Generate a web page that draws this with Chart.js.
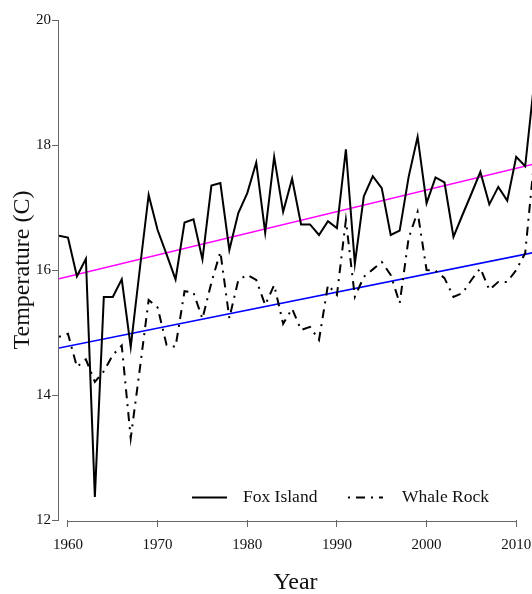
<!DOCTYPE html>
<html lang="en">
<head>
    <meta charset="UTF-8">
    <title>Temperature - Fox Island / Whale Rock</title>
    <!-- Chart.js -->
    <script src="https://cdn.jsdelivr.net/npm/chart.js"></script>
    <style>
        body { margin: 0; background: #fff; overflow: hidden; }
        canvas { display: block; }
    </style>
</head>
<body>
    <canvas id="graphique" width="532" height="594"></canvas>

    <script>
        // Données
        const years = [1959, 1960, 1961, 1962, 1963, 1964, 1965, 1966, 1967, 1968,
                       1969, 1970, 1971, 1972, 1973, 1974, 1975, 1976, 1977, 1978,
                       1979, 1980, 1981, 1982, 1983, 1984, 1985, 1986, 1987, 1988,
                       1989, 1990, 1991, 1992, 1993, 1994, 1995, 1996, 1997, 1998,
                       1999, 2000, 2001, 2002, 2003, 2004, 2005, 2006, 2007, 2008,
                       2009, 2010, 2011, 2012];
        const foxIsland = [16.55, 16.52, 15.90, 16.18, 12.37, 15.57, 15.57, 15.85, 14.77, 16.00,
                           17.20, 16.64, 16.25, 15.85, 16.76, 16.81, 16.17, 17.35, 17.39, 16.32,
                           16.91, 17.23, 17.72, 16.60, 17.81, 16.93, 17.46, 16.73, 16.73, 16.56,
                           16.78, 16.67, 17.93, 16.10, 17.18, 17.50, 17.31, 16.56, 16.63, 17.49,
                           18.13, 17.07, 17.48, 17.40, 16.53, 16.88, 17.22, 17.57, 17.05, 17.33,
                           17.11, 17.81, 17.66, 19.00];
        const whaleRock = [14.93, 14.98, 14.45, 14.57, 14.21, 14.38, 14.64, 14.79, 13.31, 14.40,
                           15.52, 15.40, 14.80, 14.77, 15.66, 15.64, 15.22, 15.80, 16.29, 15.23,
                           15.84, 15.92, 15.84, 15.44, 15.76, 15.14, 15.38, 15.04, 15.09, 14.88,
                           15.76, 15.60, 16.80, 15.57, 15.89, 16.01, 16.13, 15.92, 15.47, 16.51,
                           16.93, 16.00, 15.99, 15.87, 15.57, 15.63, 15.84, 16.03, 15.68, 15.81,
                           15.81, 16.00, 16.27, 17.75];
        // Droites de tendance (extrémités)
        const trendYears = [1959, 2013];
        const foxTrend = [15.86, 17.73];
        const whaleTrend = [14.75, 16.31];
        // Graduations
        const xTicks = [1960, 1970, 1980, 1990, 2000, 2010];
        const yTicks = [12, 14, 16, 18, 20];

        const serif = "'Liberation Serif', 'Times New Roman', serif";

        function toPoints(xs, ys) {
            return xs.map((x, i) => ({ x: x, y: ys[i] }));
        }

        // Axes façon R : traits limités aux graduations
        const axesR = {
            id: 'axesR',
            afterDraw(chart) {
                const ctx = chart.ctx;
                const x = chart.scales.x, y = chart.scales.y;
                const area = chart.chartArea;
                ctx.save();
                ctx.strokeStyle = '#666';
                ctx.lineWidth = 1;
                ctx.beginPath();
                ctx.moveTo(area.left - 0.5, y.getPixelForValue(yTicks[0]));
                ctx.lineTo(area.left - 0.5, y.getPixelForValue(yTicks[yTicks.length - 1]));
                ctx.moveTo(x.getPixelForValue(xTicks[0]), area.bottom + 1.5);
                ctx.lineTo(x.getPixelForValue(xTicks[xTicks.length - 1]), area.bottom + 1.5);
                ctx.stroke();
                ctx.restore();
            }
        };

        // Légende dans la zone du graphique
        const legendeR = {
            id: 'legendeR',
            afterDraw(chart) {
                const ctx = chart.ctx;
                const items = chart.data.datasets.slice(0, 2);
                const pos = [{ x: 192, tx: 243 }, { x: 348, tx: 402 }];
                const yy = 497.5;
                ctx.save();
                ctx.font = '17.5px ' + serif;
                ctx.textBaseline = 'middle';
                ctx.fillStyle = '#111';
                items.forEach((ds, i) => {
                    ctx.strokeStyle = ds.borderColor;
                    ctx.lineWidth = ds.borderWidth;
                    ctx.setLineDash(ds.borderDash || []);
                    ctx.beginPath();
                    ctx.moveTo(pos[i].x, yy);
                    ctx.lineTo(pos[i].x + 35, yy);
                    ctx.stroke();
                    ctx.fillText(ds.label, pos[i].tx, yy);
                });
                ctx.restore();
            }
        };

        const ctx = document.getElementById('graphique').getContext('2d');
        const myChart = new Chart(ctx, {
            type: 'line',
            data: {
                datasets: [{
                    label: 'Fox Island',
                    data: toPoints(years, foxIsland),
                    borderColor: '#000',
                    borderWidth: 2,
                    pointRadius: 0,
                    tension: 0
                }, {
                    label: 'Whale Rock',
                    data: toPoints(years, whaleRock),
                    borderColor: '#000',
                    borderWidth: 2,
                    borderDash: [2, 6, 9, 6],
                    pointRadius: 0,
                    tension: 0
                }, {
                    label: 'Fox Island trend',
                    data: toPoints(trendYears, foxTrend),
                    borderColor: '#ff00ff',
                    borderWidth: 1.5,
                    pointRadius: 0
                }, {
                    label: 'Whale Rock trend',
                    data: toPoints(trendYears, whaleTrend),
                    borderColor: '#0000ff',
                    borderWidth: 1.5,
                    pointRadius: 0
                }]
            },
            options: {
                responsive: false,
                animation: false,
                layout: { padding: { top: 20, left: 0, right: 0, bottom: 0 } },
                plugins: {
                    legend: { display: false },
                    tooltip: { enabled: false }
                },
                scales: {
                    x: {
                        type: 'linear',
                        min: 1959,
                        max: 2011.76,
                        afterFit: (s) => { s.height = 74; s.paddingLeft = 0; s.paddingRight = 0; },
                        afterBuildTicks: (s) => { s.ticks = xTicks.map(v => ({ value: v })); },
                        grid: { drawOnChartArea: false, tickLength: 7, color: '#666' },
                        border: { display: false },
                        ticks: {
                            font: { family: serif, size: 15 },
                            color: '#111',
                            padding: 9,
                            maxRotation: 0,
                            autoSkip: false,
                            callback: (v) => String(v)
                        },
                        title: {
                            display: true,
                            text: 'Year',
                            font: { family: serif, size: 24 },
                            color: '#111',
                            padding: { top: 0, bottom: -3 }
                        }
                    },
                    y: {
                        min: 12,
                        max: 20,
                        afterFit: (s) => { s.width = 59; },
                        afterBuildTicks: (s) => { s.ticks = yTicks.map(v => ({ value: v })); },
                        grid: { drawOnChartArea: false, tickLength: 7, color: '#666' },
                        border: { display: false },
                        ticks: {
                            font: { family: serif, size: 15 },
                            color: '#111',
                            padding: 1
                        },
                        title: {
                            display: true,
                            text: 'Temperature (C)',
                            font: { family: serif, size: 24 },
                            color: '#111',
                            padding: { top: 8, bottom: 0 }
                        }
                    }
                }
            },
            plugins: [axesR, legendeR]
        });
    </script>
</body>
</html>
